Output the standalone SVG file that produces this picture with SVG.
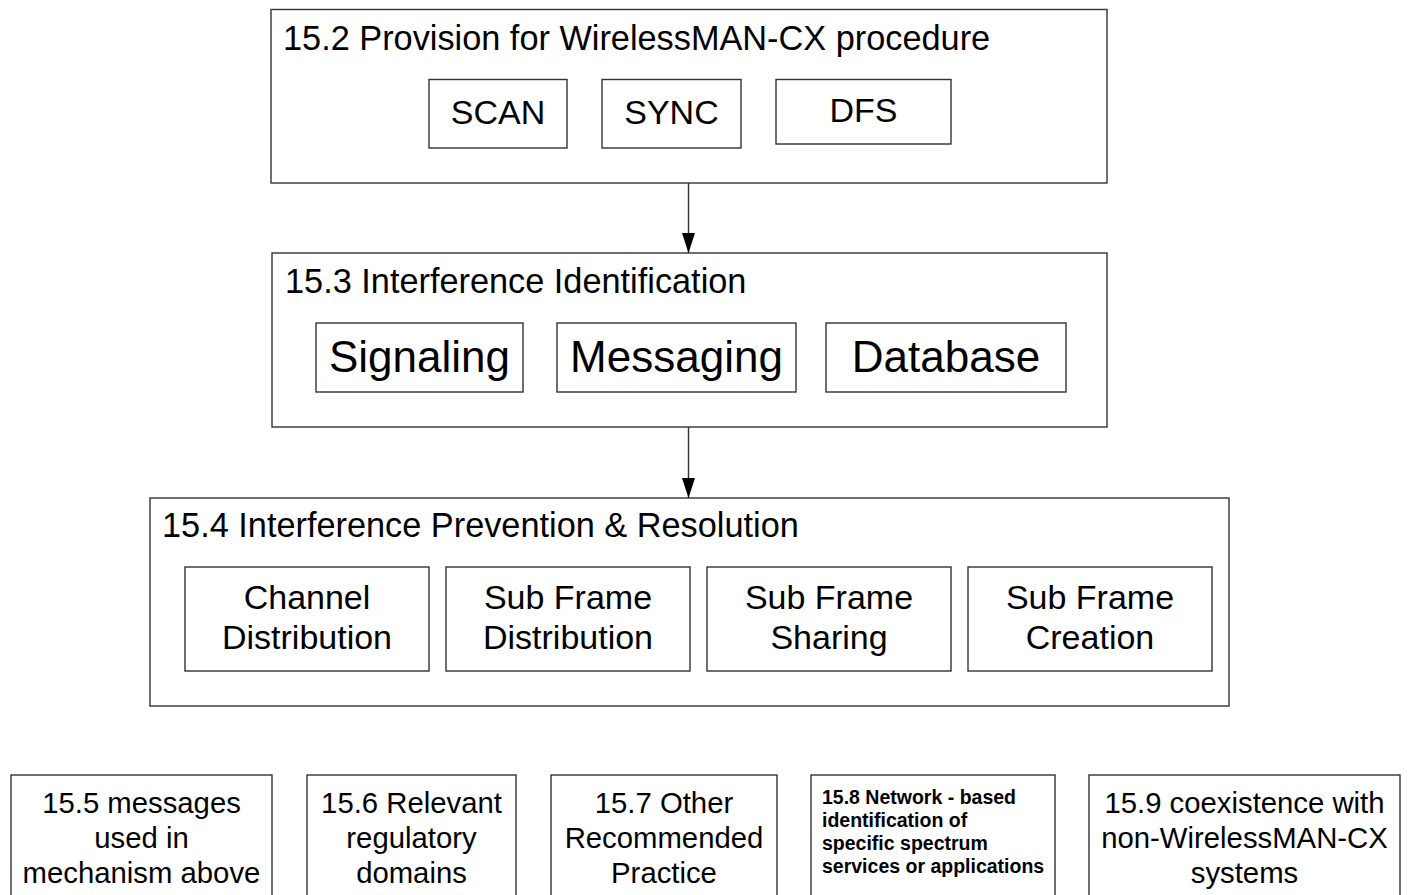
<svg xmlns="http://www.w3.org/2000/svg" width="1411" height="895" viewBox="0 0 1411 895">
<style>
.box{fill:#fff;stroke:#333;stroke-width:1.4}
text{font-family:"Liberation Sans",Arial,sans-serif;fill:#000}
.t34{font-size:34px}
.h{font-size:34.3px}
.c{text-anchor:middle}
.t44{font-size:44px}
.t29{font-size:29.3px}
.b{font-size:19.5px;font-weight:bold}
.conn line{stroke:#333;stroke-width:1.4}
</style>
<defs>
<marker id="ah" markerUnits="userSpaceOnUse" markerWidth="20" markerHeight="14" refX="20" refY="7" orient="auto" viewBox="0 0 20 14">
<path d="M0,0.5 L20,7 L0,13.5 Z" fill="#000"/>
</marker>
</defs>
<rect width="1411" height="895" fill="#fff"/>
<g id="n152">
<rect class="box" x="271" y="9.5" width="836" height="173.5"/>
<text class="h" x="283" y="50">15.2 Provision for WirelessMAN-CX procedure</text>
<g id="scan"><rect class="box" x="429" y="79.5" width="138" height="68.5"/><text class="t34 c" x="498" y="124">SCAN</text></g>
<g id="sync"><rect class="box" x="602" y="79.5" width="139" height="68.5"/><text class="t34 c" x="671.5" y="124">SYNC</text></g>
<g id="dfs"><rect class="box" x="776" y="79.5" width="175" height="64.5"/><text class="t34 c" x="863.5" y="122">DFS</text></g>
</g>
<g id="n153">
<rect class="box" x="272" y="253" width="835" height="174"/>
<text class="h" x="285" y="293">15.3 Interference Identification</text>
<g id="signaling"><rect class="box" x="316" y="323" width="207" height="69"/><text class="t44 c" x="419.5" y="372">Signaling</text></g>
<g id="messaging"><rect class="box" x="557" y="323" width="239" height="69"/><text class="t44 c" x="676.5" y="372">Messaging</text></g>
<g id="database"><rect class="box" x="826" y="323" width="240" height="69"/><text class="t44 c" x="946" y="372">Database</text></g>
</g>
<g id="n154">
<rect class="box" x="150" y="498" width="1079" height="208"/>
<text class="h" x="162" y="537">15.4 Interference Prevention &amp; Resolution</text>
<g id="chdist"><rect class="box" x="185" y="567" width="244" height="104"/><text class="t34 c" x="307" y="609">Channel</text><text class="t34 c" x="307" y="649">Distribution</text></g>
<g id="sfdist"><rect class="box" x="446" y="567" width="244" height="104"/><text class="t34 c" x="568" y="609">Sub Frame</text><text class="t34 c" x="568" y="649">Distribution</text></g>
<g id="sfshare"><rect class="box" x="707" y="567" width="244" height="104"/><text class="t34 c" x="829" y="609">Sub Frame</text><text class="t34 c" x="829" y="649">Sharing</text></g>
<g id="sfcreate"><rect class="box" x="968" y="567" width="244" height="104"/><text class="t34 c" x="1090" y="609">Sub Frame</text><text class="t34 c" x="1090" y="649">Creation</text></g>
</g>
<g id="n155"><rect class="box" x="11" y="775" width="261" height="140"/>
<text class="t29 c" x="141.5" y="813">15.5 messages</text><text class="t29 c" x="141.5" y="848">used in</text><text class="t29 c" x="141.5" y="883">mechanism above</text></g>
<g id="n156"><rect class="box" x="307" y="775" width="209" height="140"/>
<text class="t29 c" x="411.5" y="813">15.6 Relevant</text><text class="t29 c" x="411.5" y="848">regulatory</text><text class="t29 c" x="411.5" y="883">domains</text></g>
<g id="n157"><rect class="box" x="551" y="775" width="226" height="140"/>
<text class="t29 c" x="664" y="813">15.7 Other</text><text class="t29 c" x="664" y="848">Recommended</text><text class="t29 c" x="664" y="883">Practice</text></g>
<g id="n158"><rect class="box" x="811" y="775" width="244" height="140"/>
<text class="b" x="822" y="804">15.8 Network - based</text><text class="b" x="822" y="827">identification of</text><text class="b" x="822" y="850">specific spectrum</text><text class="b" x="822" y="873">services or applications</text></g>
<g id="n159"><rect class="box" x="1089" y="775" width="311" height="140"/>
<text class="t29 c" x="1244.5" y="813">15.9 coexistence with</text><text class="t29 c" x="1244.5" y="848">non-WirelessMAN-CX</text><text class="t29 c" x="1244.5" y="883">systems</text></g>
<g id="connectors" class="conn">
<line x1="688.5" y1="183" x2="688.5" y2="253" marker-end="url(#ah)"/>
<line x1="688.5" y1="427" x2="688.5" y2="498" marker-end="url(#ah)"/>
</g>
</svg>
